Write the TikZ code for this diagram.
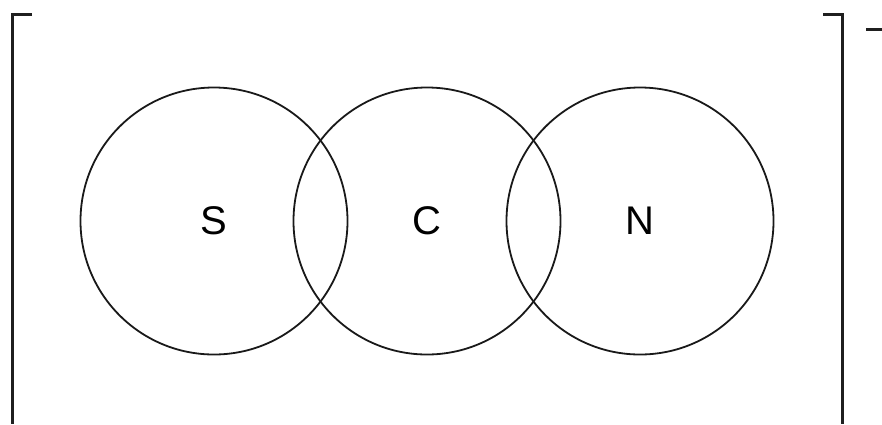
\documentclass[tikz,border=0pt]{standalone}
\usepackage{fontspec}
\setmainfont{Liberation Sans}
\begin{document}
\begin{tikzpicture}[x=1pt,y=-1pt,
  ring/.style={draw=black!90, line width=1.8pt, circle, minimum size=267pt, inner sep=0pt, font=\fontsize{40}{40}\selectfont},
  brk/.style={draw=black!88, line width=2.2pt}]
\useasboundingbox (0,0) rectangle (882,424);
\node[ring] (s) at (214,221) {S};
\node[ring] (c) at (427,221) {C};
\node[ring] (n) at (640,221) {N};
\coordinate (lt) at (32,14.5);
\coordinate (lc) at (12.5,14.5);
\coordinate (lb) at (12.5,424);
\draw[brk] (lt) -- (lc) -- (lb);
\coordinate (rt) at (823,14.5);
\coordinate (rc) at (842.5,14.5);
\coordinate (rb) at (842.5,424);
\draw[brk] (rt) -- (rc) -- (rb);
\coordinate (m1) at (866,29.5);
\coordinate (m2) at (882,29.5);
\draw[brk] (m1) -- (m2);
\end{tikzpicture}
\end{document}
